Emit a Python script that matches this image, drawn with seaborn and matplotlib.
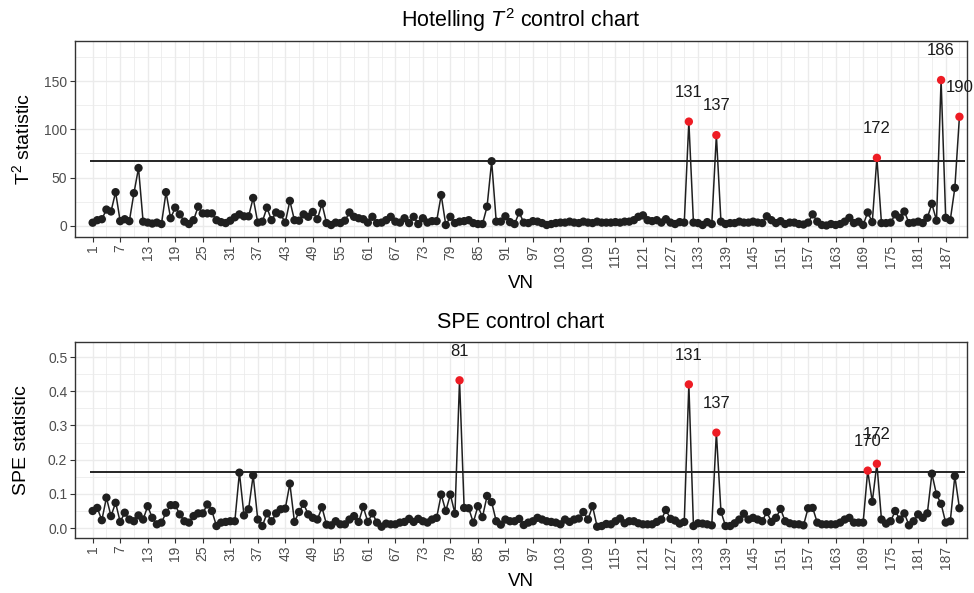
import numpy as np
import pandas as pd
import matplotlib
matplotlib.use("Agg")
import matplotlib.pyplot as plt
import seaborn as sns

# ---- data ----
t2_values = [
    3.4, 6, 7, 17, 15, 35, 5, 7, 5, 34,
    60, 4.5, 3.5, 2.5, 3.5, 2, 35, 8, 19, 12,
    4.5, 2, 6, 20, 13, 13, 13, 6, 4, 3,
    5.5, 9, 12, 10, 10, 29, 3.5, 4.5, 19, 6,
    14, 12, 3.5, 26, 6, 5.5, 12, 9.5, 14.5, 7,
    23, 3, 1, 3.5, 3, 5.5, 14, 9.5, 8, 7,
    3.5, 9.5, 3, 3.5, 6, 9.5, 4.5, 3.5, 8, 3,
    9.5, 2, 8, 3.5, 5, 5, 32, 1, 9.5, 3,
    4.5, 5, 6, 3, 2, 2, 20, 67, 4.5, 4.5,
    10, 4, 2, 14, 3.5, 3, 5, 4.5, 3, 1,
    2, 3, 3.5, 3.5, 4.5, 3.5, 3, 4.5, 3.5, 3,
    4.5, 3.5, 3.5, 3.5, 4, 3.5, 4.5, 4.5, 6, 9.5,
    11, 6, 5, 6, 3.5, 7, 3.5, 2, 4, 3.5,
    108, 3.5, 3, 1, 4, 2, 94, 4.5, 2, 3,
    3, 4.5, 3.5, 3.5, 4.5, 3.5, 3, 10, 6, 3,
    5, 2, 3.5, 3.5, 2, 1.5, 3.5, 12, 4.5, 1,
    0.5, 2, 1, 2, 4.5, 8.5, 3, 4.5, 1, 14,
    4, 70.5, 3, 3, 3.5, 12, 8.5, 15, 3, 3.5,
    4.5, 3, 8.5, 23, 5.5, 151, 8.5, 6, 39.5, 113,
]
spe_values = [
    0.050, 0.059, 0.023, 0.089, 0.035, 0.074, 0.018, 0.045, 0.025, 0.020,
    0.037, 0.025, 0.064, 0.030, 0.011, 0.016, 0.045, 0.067, 0.067, 0.040,
    0.020, 0.016, 0.035, 0.043, 0.043, 0.069, 0.050, 0.006, 0.016, 0.018,
    0.020, 0.020, 0.162, 0.037, 0.055, 0.154, 0.025, 0.006, 0.043, 0.020,
    0.043, 0.055, 0.057, 0.130, 0.018, 0.047, 0.071, 0.040, 0.030, 0.025,
    0.061, 0.010, 0.008, 0.020, 0.011, 0.011, 0.025, 0.035, 0.018, 0.062,
    0.018, 0.043, 0.016, 0.004, 0.013, 0.011, 0.011, 0.016, 0.018, 0.027,
    0.018, 0.027, 0.020, 0.016, 0.025, 0.030, 0.098, 0.050, 0.098, 0.042,
    0.432, 0.059, 0.058, 0.016, 0.064, 0.032, 0.094, 0.076, 0.020, 0.010,
    0.025, 0.020, 0.020, 0.027, 0.009, 0.016, 0.020, 0.030, 0.025, 0.020,
    0.018, 0.016, 0.011, 0.025, 0.018, 0.025, 0.028, 0.047, 0.025, 0.064,
    0.004, 0.006, 0.012, 0.011, 0.020, 0.028, 0.014, 0.020, 0.020, 0.014,
    0.011, 0.011, 0.011, 0.018, 0.025, 0.053, 0.027, 0.022, 0.013, 0.018,
    0.420, 0.006, 0.014, 0.013, 0.011, 0.008, 0.279, 0.048, 0.006, 0.006,
    0.014, 0.025, 0.042, 0.025, 0.030, 0.025, 0.020, 0.047, 0.018, 0.030,
    0.056, 0.020, 0.014, 0.011, 0.011, 0.008, 0.058, 0.059, 0.016, 0.011,
    0.011, 0.011, 0.011, 0.016, 0.025, 0.030, 0.016, 0.016, 0.016, 0.168,
    0.077, 0.188, 0.025, 0.013, 0.020, 0.050, 0.025, 0.043, 0.008, 0.020,
    0.040, 0.030, 0.043, 0.159, 0.098, 0.071, 0.016, 0.020, 0.152, 0.058,
]
vn = list(range(1, len(t2_values) + 1))
t2_limit = 67.7
spe_limit = 0.163
x_tick_values = list(range(1, 191, 6))
t2_y_ticks = [0, 50, 100, 150]
spe_y_ticks = [0.0, 0.1, 0.2, 0.3, 0.4, 0.5]
spe_y_labels = ["0.0", "0.1", "0.2", "0.3", "0.4", "0.5"]

df = pd.DataFrame({"VN": vn, "T2": t2_values, "SPE": spe_values})
df["T2_out"] = df["T2"] > t2_limit
df["SPE_out"] = df["SPE"] > spe_limit

# ---- style ----
sns.set_theme(style="white")
plt.rcParams["font.family"] = ["Liberation Sans", "DejaVu Sans"]
plt.rcParams["mathtext.fontset"] = "custom"
plt.rcParams["mathtext.rm"] = "Liberation Sans"
plt.rcParams["mathtext.it"] = "Liberation Sans:italic"

W, H = 974, 593
fig = plt.figure(figsize=(W / 100, H / 100), dpi=100)
fig.patch.set_facecolor("white")

LINE_C = "#1f1f1f"
RED = "#EE1C24"
GRID = "#EBEBEB"
BORDER = "#333333"
TICKLAB = "#4D4D4D"


def px_axes(left, top, right, bottom):
    return fig.add_axes([left / W, 1 - bottom / H, (right - left) / W, (bottom - top) / H])


def draw_panel(ax, col, limit, ylim, yticks, ylabels, minor_y, labelcol):
    ax.set_facecolor("white")
    ax.set_xlim(-2.85, 191.65)
    ax.set_ylim(*ylim)
    ax.set_xticks(x_tick_values)
    ax.set_xticks([v + 3 for v in x_tick_values], minor=True)
    ax.set_yticks(yticks)
    ax.set_yticks(minor_y, minor=True)
    ax.grid(True, which="major", color=GRID, lw=1.0, zorder=0)
    ax.grid(True, which="minor", color=GRID, lw=0.55, zorder=0)
    ax.set_axisbelow(True)

    sns.lineplot(data=df, x="VN", y=col, ax=ax, color=LINE_C, lw=1.1,
                 zorder=3, legend=False, estimator=None)
    sns.scatterplot(data=df[~df[labelcol]], x="VN", y=col, ax=ax, color=LINE_C,
                    s=36, edgecolor="none", zorder=4, legend=False)
    sns.scatterplot(data=df[df[labelcol]], x="VN", y=col, ax=ax, color=RED,
                    s=36, edgecolor="none", zorder=5, legend=False)
    ax.hlines(limit, 0.5, 191.2, color="black", lw=1.2, zorder=2)

    for _, r in df[df[labelcol]].iterrows():
        ax.annotate(str(int(r["VN"])), (r["VN"], r[col]), xytext=(0, 21),
                    textcoords="offset points", ha="center", va="center",
                    fontsize=12, color="#1a1a1a", annotation_clip=False, zorder=6)

    ax.set_yticklabels(ylabels)
    ax.set_xticklabels([str(v) for v in x_tick_values], rotation=90)
    ax.tick_params(axis="both", which="major", length=3.5, width=0.8, color=BORDER,
                   labelsize=10, labelcolor=TICKLAB, pad=2, bottom=True, left=True)
    ax.tick_params(axis="both", which="minor", length=0)
    for sp in ax.spines.values():
        sp.set_color(BORDER)
        sp.set_linewidth(1.0)
    ax.set_xlabel("")
    ax.set_ylabel("")


ax1 = px_axes(75, 41, 967, 237)
draw_panel(ax1, "T2", t2_limit, (-11.4, 191.4), t2_y_ticks, [str(v) for v in t2_y_ticks],
           [25, 75, 125, 175], "T2_out")

ax2 = px_axes(75, 342, 967, 538)
draw_panel(ax2, "SPE", spe_limit, (-0.029, 0.544), spe_y_ticks, spe_y_labels,
           [0.05, 0.15, 0.25, 0.35, 0.45], "SPE_out")

cx = (75 + 967) / 2 / W
fig.text(cx, 1 - 20 / H, r"Hotelling $T^2$ control chart", ha="center", va="center",
         fontsize=15.5, color="black")
fig.text(cx, 1 - 283 / H, "VN", ha="center", va="center", fontsize=13.5, color="black")
fig.text(cx, 1 - 322 / H, "SPE control chart", ha="center", va="center",
         fontsize=15.5, color="black")
fig.text(cx, 1 - 582 / H, "VN", ha="center", va="center", fontsize=13.5, color="black")
fig.text(22 / W, 1 - 139 / H, r"T$^2$ statistic", ha="center", va="center",
         rotation=90, fontsize=14, color="black")
fig.text(22 / W, 1 - 440 / H, "SPE statistic", ha="center", va="center",
         rotation=90, fontsize=14, color="black")

fig.savefig("out.png", dpi=100, facecolor="white")
